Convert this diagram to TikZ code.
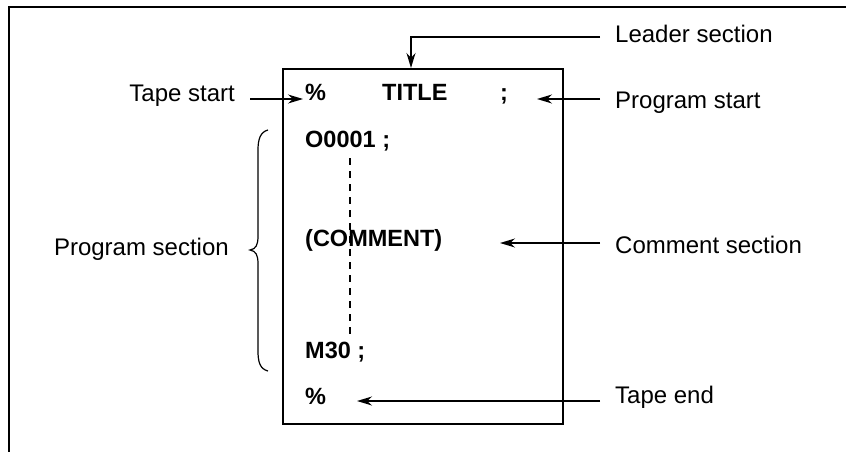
\documentclass[tikz,border=0pt]{standalone}
\usepackage{fontspec}
\setmainfont{Liberation Sans}
\usetikzlibrary{arrows.meta}
\begin{document}
\begin{tikzpicture}[x=1pt,y=-1pt,
  lbl/.style={inner sep=0pt,font=\fontsize{24}{28}\selectfont},
  code/.style={inner sep=0pt,font=\fontsize{23.5}{28}\selectfont\bfseries},
  arr/.style={line width=1.5pt,-{Stealth[length=15pt,width=9pt]}},
  frame/.style={line width=1.7pt}]
\useasboundingbox (0,0) rectangle (846,452);
% outer frame (open right and bottom)
\draw[frame] (9,460) -- (9,7) -- (850,7);
% inner tape box
\node[draw,line width=1.7pt,minimum width=280pt,minimum height=355pt,inner sep=0pt,anchor=north west] (tape) at (282,68) {};
% code texts
\node[code,anchor=base west] (pct1) at (305,100) {\%};
\node[code,anchor=base west] (title) at (382,100) {TITLE};
\node[code,anchor=base west] (semi) at (500,100) {;};
\node[code,anchor=base west] (o0001) at (305,147) {O0001 ;};
\node[code,anchor=base west] (comment) at (305,246) {(COMMENT)};
\node[code,anchor=base west] (m30) at (305,358) {M30 ;};
\node[code,anchor=base west] (pct2) at (305,404) {\%};
% dashed continuation
\coordinate (dtop) at (350,158);
\coordinate (dbot) at (350,334);
\draw[line width=1.7pt,dash pattern=on 7pt off 6pt] (dtop) -- (dbot);
% labels
\node[lbl,anchor=base east] (tstart) at (235,102) {Tape start};
\node[lbl,anchor=base east] (psec) at (229,255) {Program section};
\node[lbl,anchor=base west] (leader) at (615,43) {Leader section};
\node[lbl,anchor=base west] (pstart) at (615,108) {Program start};
\node[lbl,anchor=base west] (csec) at (615,253) {Comment section};
\node[lbl,anchor=base west] (tend) at (615,403) {Tape end};
% arrow coordinates
\coordinate (a1s) at (250,99);  \coordinate (a1e) at (303,99);
\coordinate (a2s) at (600,37);  \coordinate (a2m) at (411,37); \coordinate (a2e) at (411,68);
\coordinate (a3s) at (600,99);  \coordinate (a3e) at (537,99);
\coordinate (a4s) at (600,243); \coordinate (a4e) at (500,243);
\coordinate (a5s) at (600,401); \coordinate (a5e) at (357,401);
\draw[arr] (a1s) -- (a1e);
\draw[arr] (a2s) -- (a2m) -- (a2e);
\draw[arr] (a3s) -- (a3e);
\draw[arr] (a4s) -- (a4e);
\draw[arr] (a5s) -- (a5e);
% brace
\draw[line width=1.2pt] (268,130) .. controls (260,132) and (258,140) .. (258,150)
  -- (258,236) .. controls (258,245) and (256,249) .. (250,250)
  .. controls (256,251) and (258,255) .. (258,264)
  -- (258,351) .. controls (258,362) and (260,369) .. (268,371);
\end{tikzpicture}
\end{document}
